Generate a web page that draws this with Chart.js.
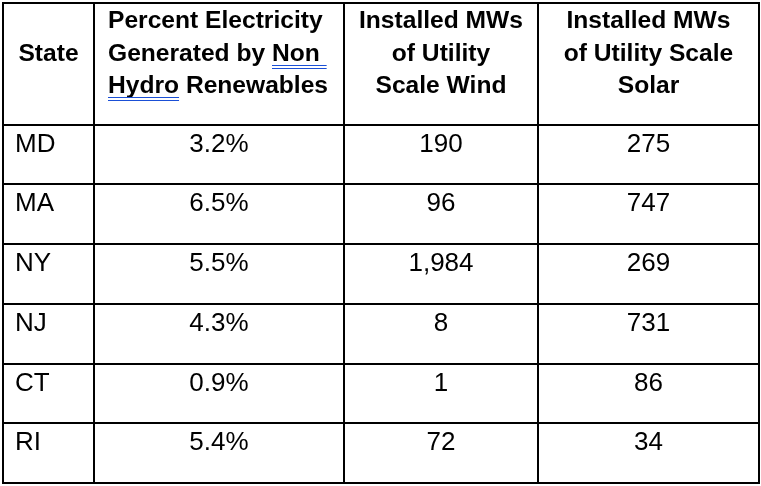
<!DOCTYPE html>
<html>
<head>
<meta charset="utf-8">
<script src="https://cdn.jsdelivr.net/npm/chart.js@4.4.0/dist/chart.umd.min.js"></script>
<style>
  body { margin: 0; background: #fff; }
  #wrap { width: 761px; height: 486px; }
</style>
</head>
<body>
<div id="wrap"><canvas id="tabla" width="761" height="486"></canvas></div>
<script>
// datos de la tabla
var states = ["MD", "MA", "NY", "NJ", "CT", "RI"];
var pctNonHydro = [3.2, 6.5, 5.5, 4.3, 0.9, 5.4];
var windMW = [190, 96, 1984, 8, 1, 72];
var solarMW = [275, 747, 269, 731, 86, 34];
var headers = [
  ["State"],
  ["Percent Electricity", "Generated by Non ", "Hydro Renewables"],
  ["Installed MWs", "of Utility", "Scale Wind"],
  ["Installed MWs", "of Utility Scale", "Solar"],
];

// layout (table units)
var colEdges = [0, 91, 341, 535, 756];
var rowEdges = [0, 122, 181, 241, 301, 361, 420, 480];
var colAlign = ["left", "center", "center", "center"];
var headAlign = ["center", "left", "center", "center"];

var fontFam = "'Liberation Sans', Arial, sans-serif";

function cellText(r, c) {
  if (c == 0) return states[r];
  if (c == 1) return pctNonHydro[r].toFixed(1) + "%";
  if (c == 2) return windMW[r].toLocaleString("en-US");
  return solarMW[r].toLocaleString("en-US");
}

var tablePlugin = {
  id: "tablePlugin",
  afterDraw: function (chart) {
    var ctx = chart.ctx;
    var xs = chart.scales.x;
    var ys = chart.scales.y;
    var px = function (v) { return Math.round(xs.getPixelForValue(v)); };
    var py = function (v) { return Math.round(ys.getPixelForValue(v)); };
    ctx.save();

    // lineas de la tabla
    ctx.strokeStyle = "#000";
    ctx.lineWidth = 2;
    ctx.beginPath();
    colEdges.forEach(function (e) {
      ctx.moveTo(px(e), py(rowEdges[0]) - 1);
      ctx.lineTo(px(e), py(rowEdges[rowEdges.length - 1]) + 1);
    });
    rowEdges.forEach(function (e) {
      ctx.moveTo(px(colEdges[0]) - 1, py(e));
      ctx.lineTo(px(colEdges[colEdges.length - 1]) + 1, py(e));
    });
    ctx.stroke();

    // encabezados
    ctx.fillStyle = "#000";
    ctx.font = "bold 24.6px " + fontFam;
    ctx.textBaseline = "alphabetic";
    headers.forEach(function (lines, c) {
      var x0 = px(colEdges[c]), x1 = px(colEdges[c + 1]);
      var top = py(rowEdges[0]);
      var start = lines.length == 1 ? 1 : 0;
      lines.forEach(function (ln, i) {
        var by = top + 25 + (start + i) * 32.5;
        var tx;
        if (headAlign[c] == "left") { ctx.textAlign = "left"; tx = x0 + 14; }
        else { ctx.textAlign = "center"; tx = (x0 + x1) / 2; }
        ctx.fillText(ln, tx, by);
      });
    });

    // subrayado azul doble (corrector)
    ctx.textAlign = "left";
    var hx = px(colEdges[1]) + 14;
    var top0 = py(rowEdges[0]);
    function underline(x, w, by) {
      ctx.strokeStyle = "#1a4fd6";
      ctx.lineWidth = 1;
      ctx.beginPath();
      ctx.moveTo(x, Math.round(by) + 4.5); ctx.lineTo(x + w, Math.round(by) + 4.5);
      ctx.moveTo(x, Math.round(by) + 7.5); ctx.lineTo(x + w, Math.round(by) + 7.5);
      ctx.stroke();
    }
    var pre = ctx.measureText("Generated by ").width;
    underline(hx + pre, ctx.measureText("Non ").width, top0 + 25 + 32.5);
    underline(hx, ctx.measureText("Hydro").width, top0 + 25 + 65);

    // celdas
    ctx.fillStyle = "#000";
    ctx.font = "26px " + fontFam;
    for (var r = 0; r < states.length; r++) {
      var rt = py(rowEdges[r + 1]);
      for (var c = 0; c < 4; c++) {
        var x0 = px(colEdges[c]), x1 = px(colEdges[c + 1]);
        var tx;
        if (colAlign[c] == "left") { ctx.textAlign = "left"; tx = x0 + 12; }
        else { ctx.textAlign = "center"; tx = (x0 + x1) / 2; }
        ctx.fillText(cellText(r, c), tx, rt + 27);
      }
    }
    ctx.restore();
  },
};

var ctx = document.getElementById("tabla").getContext("2d");
var tabla = new Chart(ctx, {
  type: "scatter",
  data: { datasets: [] },
  options: {
    responsive: false,
    animation: false,
    layout: { padding: { left: 3, right: 2, top: 3, bottom: 3 } },
    scales: {
      x: { type: "linear", display: false, min: colEdges[0], max: colEdges[colEdges.length - 1] },
      y: { type: "linear", display: false, reverse: true, min: rowEdges[0], max: rowEdges[rowEdges.length - 1] },
    },
    plugins: { legend: { display: false }, tooltip: { enabled: false } },
  },
  plugins: [tablePlugin],
});
</script>
</body>
</html>
